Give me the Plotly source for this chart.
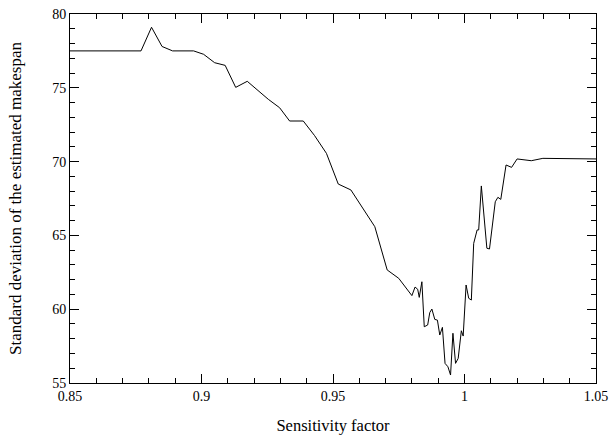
import plotly.graph_objects as go

sensitivity = [0.85, 0.877, 0.881, 0.885, 0.889, 0.897, 0.9008, 0.905, 0.909, 0.913,
               0.9174, 0.9212, 0.9254, 0.9297, 0.9335, 0.9387, 0.943, 0.9475, 0.952, 0.9568,
               0.9659, 0.9706, 0.975, 0.980, 0.9812, 0.9822, 0.9828, 0.9838, 0.9847, 0.986,
               0.9868, 0.9876, 0.9887, 0.9897, 0.9906, 0.9916, 0.9926, 0.9937, 0.9947, 0.9956,
               0.9966, 0.9976, 0.9988, 0.9995, 1.0006, 1.0016, 1.0026, 1.0035, 1.0048, 1.0054,
               1.0064, 1.0085, 1.0095, 1.0117, 1.0127, 1.0138, 1.0158, 1.0179, 1.020, 1.0254,
               1.0298, 1.05]
std_makespan = [77.5, 77.5, 79.1, 77.8, 77.5, 77.5, 77.27, 76.7, 76.52, 75.03,
                75.44, 74.85, 74.22, 73.65, 72.75, 72.75, 71.76, 70.56, 68.48, 68.08,
                65.59, 62.66, 62.09, 60.92, 61.5, 61.35, 60.8, 61.86, 58.81, 58.93,
                59.77, 60.01, 59.31, 59.26, 58.25, 58.77, 56.33, 56.1, 55.54, 58.37,
                56.33, 56.67, 58.54, 58.18, 61.64, 60.74, 60.62, 64.46, 65.37, 65.37,
                68.35, 64.13, 64.08, 67.28, 67.58, 67.44, 69.77, 69.61, 70.18, 70.06,
                70.22, 70.18]

x_ticks = [0.85, 0.9, 0.95, 1.0, 1.05]
x_tick_labels = ["0.85", "0.9", "0.95", "1", "1.05"]
y_ticks = [55, 60, 65, 70, 75, 80]

family = "Liberation Serif, Times New Roman, serif"
tick_font = dict(family=family, size=14, color="black")

fig = go.Figure()
fig.add_trace(go.Scatter(x=sensitivity, y=std_makespan, mode="lines",
                         line=dict(color="black", width=1), showlegend=False))

axis_common = dict(showline=True, linecolor="black", linewidth=1, mirror="allticks",
                   ticks="inside", ticklen=9, tickwidth=1, tickcolor="black",
                   showgrid=False, zeroline=False, tickfont=tick_font, automargin=False,
                   ticklabeloverflow="allow")

fig.update_xaxes(range=[0.85, 1.05], tickvals=x_ticks, ticktext=x_tick_labels,
                 minor=dict(dtick=0.01, ticks="inside", ticklen=5, tickcolor="black", showgrid=False),
                 title=dict(text="Sensitivity factor", font=dict(family=family, size=16.5, color="black"), standoff=16),
                 **axis_common)
fig.update_yaxes(range=[55, 80], tickvals=y_ticks,
                 minor=dict(dtick=1, ticks="inside", ticklen=5, tickcolor="black", showgrid=False),
                 title=dict(text="Standard deviation of the estimated makespan", font=dict(family=family, size=17, color="black"), standoff=26),
                 **axis_common)

fig.update_layout(width=614, height=439, margin=dict(l=70, r=18, t=14, b=56),
                  plot_bgcolor="white", paper_bgcolor="white", font=tick_font)

fig.write_html("out.html")
